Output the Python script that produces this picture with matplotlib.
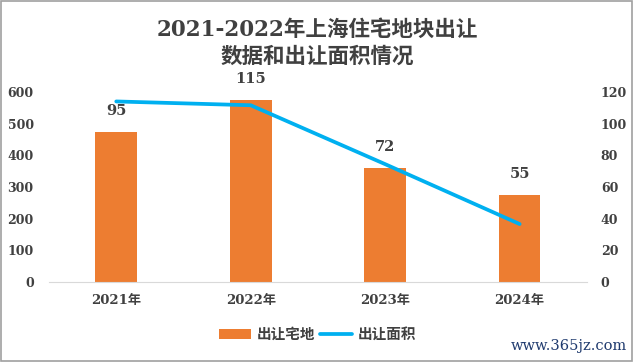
import matplotlib
matplotlib.use("Agg")
import matplotlib.pyplot as plt
from matplotlib.patches import Rectangle

plt.rcParams['font.family'] = ['DejaVu Serif', 'Noto Sans CJK SC']
plt.rcParams['font.weight'] = 'bold'

years = ['2021年', '2022年', '2023年', '2024年']
plots = [95, 115, 72, 55]          # 出让宅地 (right axis)
area = [570, 558, 372, 183]        # 出让面积 (left axis)
left_ticks = [0, 100, 200, 300, 400, 500, 600]
right_ticks = [0, 20, 40, 60, 80, 100, 120]

txt = '#404040'
orange = '#ED7D31'
blue = '#00B0F0'

fig = plt.figure(figsize=(6.35, 3.62), dpi=100)
ax = fig.add_axes([0.0772, 0.221, 0.847, 0.525])
ax2 = ax.twinx()
x = list(range(len(years)))

bars = ax2.bar(x, plots, width=0.31, color=orange, zorder=2, label='出让宅地')
for xi, v in zip(x, plots):
    ax2.annotate(str(v), (xi, v), xytext=(0, 15), textcoords='offset points',
                 ha='center', va='center', fontsize=10.5, color=txt, fontweight='bold')

ln, = ax.plot(x, area, color=blue, lw=2.7, solid_capstyle='round', zorder=3, label='出让面积')
ax.set_zorder(ax2.get_zorder() + 1)
ax.patch.set_visible(False)

ax.set_xlim(-0.5, 3.5)
ax.set_ylim(0, 600)
ax2.set_ylim(0, 120)
ax.set_yticks(left_ticks)
ax2.set_yticks(right_ticks)
ax.set_xticks(x)
ax.set_xticklabels(years)
for a in (ax, ax2):
    for s in a.spines.values():
        s.set_visible(False)
    a.tick_params(length=0, labelsize=9, labelcolor=txt)
ax.spines['bottom'].set_visible(True)
ax.spines['bottom'].set_color('#D9D9D9')
ax.tick_params(axis='x', pad=9, labelsize=9.5)
ax.tick_params(axis='y', pad=11)
ax2.tick_params(axis='y', pad=10)

fig.text(0.5, 0.917, '2021-2022年上海住宅地块出让', ha='center', va='center',
         fontsize=15.5, color=txt, fontweight='bold')
fig.text(0.5, 0.843, '数据和出让面积情况', ha='center', va='center',
         fontsize=15.5, color=txt, fontweight='bold')

fig.legend(handles=[bars, ln], loc='center', bbox_to_anchor=(0.5, 0.075), ncol=2,
           frameon=False, fontsize=10.5, labelcolor=txt, handlelength=2.2,
           handletextpad=0.4, columnspacing=0.3)

fig.text(0.988, 0.045, 'www.365jz.com', ha='right', va='center', fontsize=10.5,
         color='#1F3A6E', fontweight='normal')

fig.patches.append(Rectangle((0.002, 0.004), 0.994, 0.992, transform=fig.transFigure,
                             fill=False, edgecolor='#A0A0A0', lw=1.2))

fig.savefig('out.png', dpi=100)
